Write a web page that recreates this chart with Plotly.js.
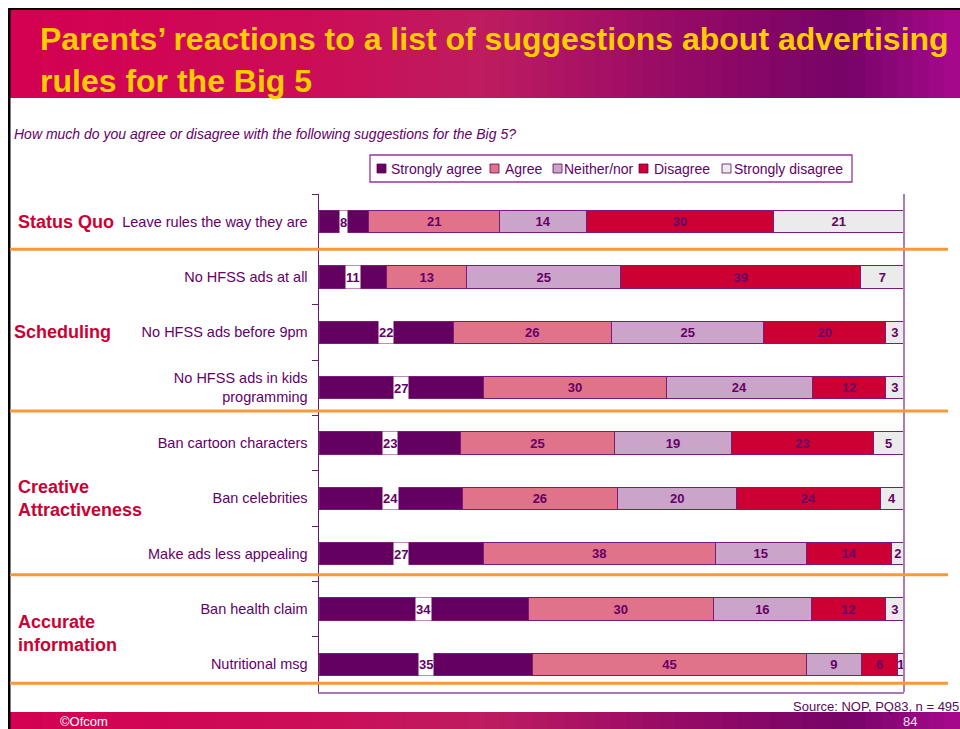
<!DOCTYPE html>
<html>
<head>
<meta charset="utf-8">
<script src="https://cdn.plot.ly/plotly-3.0.1.min.js"></script>
<style>html,body{margin:0;padding:0;background:#fff;}#chart{width:960px;height:729px;}</style>
</head>
<body>
<div id="chart"></div>
<script>
// ---- data ----
const categories = [
  'Leave rules the way they are',
  'No HFSS ads at all',
  'No HFSS ads before 9pm',
  'No HFSS ads in kids<br>programming',
  'Ban cartoon characters',
  'Ban celebrities',
  'Make ads less appealing',
  'Ban health claim',
  'Nutritional msg'
];
const seriesNames = ['Strongly agree', 'Agree', 'Neither/nor', 'Disagree', 'Strongly disagree'];
const stronglyAgree    = [8, 11, 22, 27, 23, 24, 27, 34, 35];
const agree            = [21, 13, 26, 30, 25, 26, 38, 30, 45];
const neitherNor       = [14, 25, 25, 24, 19, 20, 15, 16, 9];
const disagree         = [30, 39, 20, 12, 23, 24, 14, 12, 6];
const stronglyDisagree = [21, 7, 3, 3, 5, 4, 2, 3, 1];
const groups = ['Status Quo', 'Scheduling', 'Creative<br>Attractiveness', 'Accurate<br>information'];
const groupRows = [0, 2, 5, 7.45];

const seriesValues = [stronglyAgree, agree, neitherNor, disagree, stronglyDisagree];
const colors = ['#640060', '#e0728a', '#caa4c9', '#cc0033', '#ebebeb'];

// ---- layout helpers (pixel -> paper) ----
const L = 319, R = 904, T = 194, B = 692;
const px2x = p => (p - L) / (R - L);
const px2y = p => (B - p) / (B - T);
const FONT = 'Liberation Sans, Arial, sans-serif';
const PURPLE = '#660066';

const traces = seriesValues.map((vals, i) => ({
  type: 'bar',
  orientation: 'h',
  name: seriesNames[i],
  y: categories,
  x: vals,
  text: i === 0 ? vals.map(() => '') : vals.map(String),
  textposition: 'inside',
  insidetextanchor: 'middle',
  textfont: {family: FONT, size: 13, color: PURPLE, weight: 700},
  marker: {color: colors[i], line: {color: '#7a1a7a', width: 1}},
  hoverinfo: 'skip',
  showlegend: false
}));

const shapes = [];
const annotations = [];

// header gradient
function lerp(a, b, t) { return a + (b - a) * t; }
const stops = [[0, [212, 0, 82]], [0.3, [204, 12, 86]], [0.5, [190, 28, 96]], [0.7, [150, 10, 102]], [0.88, [118, 4, 104]], [1, [168, 8, 140]]];
function gradColor(t) {
  for (let k = 0; k < stops.length - 1; k++) {
    const [t0, c0] = stops[k], [t1, c1] = stops[k + 1];
    if (t >= t0 && t <= t1) {
      const u = (t - t0) / (t1 - t0);
      return 'rgb(' + c0.map((c, j) => Math.round(lerp(c, c1[j], u))).join(',') + ')';
    }
  }
  return 'rgb(168,8,140)';
}
function band(y0, y1) {
  const N = 60, x0 = 10, x1 = 960;
  for (let k = 0; k < N; k++) {
    const a = x0 + (x1 - x0) * k / N, b = x0 + (x1 - x0) * (k + 1) / N + 0.8;
    shapes.push({type: 'rect', xref: 'paper', yref: 'paper', x0: px2x(a), x1: px2x(b), y0: px2y(y1), y1: px2y(y0),
      fillcolor: gradColor((k + 0.5) / N), line: {width: 0}, layer: 'below'});
  }
}
band(10, 98);
band(712, 729);
// slide borders
shapes.push({type: 'rect', xref: 'paper', yref: 'paper', x0: px2x(8), x1: px2x(960), y0: px2y(10), y1: px2y(8), fillcolor: '#000', line: {width: 0}});
shapes.push({type: 'rect', xref: 'paper', yref: 'paper', x0: px2x(8), x1: px2x(10.5), y0: px2y(729), y1: px2y(8), fillcolor: '#000', line: {width: 0}});

// right frame line
shapes.push({type: 'line', xref: 'paper', yref: 'paper', x0: 1, x1: 1, y0: 0, y1: 1, line: {color: '#a77bb5', width: 2}});

// orange separators
[0.5, 3.42, 6.38, 8.34].forEach(yv => {
  shapes.push({type: 'line', xref: 'paper', yref: 'y', x0: px2x(10), x1: px2x(948), y0: yv, y1: yv, line: {color: '#f7993a', width: 3}});
});

// legend (custom)
shapes.push({type: 'rect', xref: 'paper', yref: 'paper', x0: px2x(370), x1: px2x(852), y0: px2y(182), y1: px2y(155), fillcolor: '#fff', line: {color: '#993399', width: 1.3}});
const legSq = [377, 490, 553, 639, 722];
const legTx = [389, 503, 562, 652, 732];
seriesNames.forEach((n, i) => {
  shapes.push({type: 'rect', xref: 'paper', yref: 'paper', x0: px2x(legSq[i]), x1: px2x(legSq[i] + 9), y0: px2y(173), y1: px2y(164),
    fillcolor: colors[i], line: {color: '#660066', width: 0.8}});
  annotations.push({xref: 'paper', yref: 'paper', x: px2x(legTx[i]), y: px2y(168.5), xanchor: 'left', yanchor: 'middle', showarrow: false,
    text: n, font: {family: FONT, size: 14, color: PURPLE}});
});

// strongly agree labels with white boxes
categories.forEach((c, r) => {
  const total = seriesValues.reduce((s, arr) => s + arr[r], 0);
  const xc = stronglyAgree[r] / total * 100 / 2;
  annotations.push({xref: 'x', yref: 'y', x: xc, y: c, showarrow: false, text: String(stronglyAgree[r]),
    font: {family: FONT, size: 13, color: PURPLE, weight: 700}, bgcolor: '#ffffff', borderpad: 0, height: 22});
});

// group labels
groups.forEach((g, i) => {
  annotations.push({xref: 'paper', yref: 'y', x: px2x(i === 1 ? 12 : 16), y: groupRows[i], xanchor: 'left', yanchor: 'middle', align: 'left',
    showarrow: false, text: g, font: {family: FONT, size: 18, color: '#cc0033', weight: 700}});
});

// subtitle, source, footer
annotations.push({xref: 'paper', yref: 'paper', x: px2x(12), y: px2y(134), xanchor: 'left', yanchor: 'middle', showarrow: false,
  text: '<i>How much do you agree or disagree with the following suggestions for the Big 5?</i>', font: {family: FONT, size: 14, color: PURPLE}});
annotations.push({xref: 'paper', yref: 'paper', x: px2x(961), y: px2y(706), xanchor: 'right', yanchor: 'middle', showarrow: false,
  text: 'Source: NOP, PQ83, n = 495', font: {family: FONT, size: 13, color: '#5a0a5a'}});
annotations.push({xref: 'paper', yref: 'paper', x: px2x(58), y: px2y(721), xanchor: 'left', yanchor: 'middle', showarrow: false,
  text: '©Ofcom', font: {family: FONT, size: 13, color: '#ffffff'}});
annotations.push({xref: 'paper', yref: 'paper', x: px2x(901), y: px2y(721), xanchor: 'left', yanchor: 'middle', showarrow: false,
  text: '84', font: {family: FONT, size: 13, color: '#f0e0f0'}});

const layout = {
  width: 960, height: 729,
  margin: {l: L, r: 960 - R, t: T, b: 729 - B, pad: 0},
  paper_bgcolor: '#ffffff', plot_bgcolor: '#ffffff',
  barmode: 'stack', barnorm: 'percent', bargap: 0.6,
  uniformtext: {mode: 'show', minsize: 13},
  showlegend: false,
  title: {
    text: 'Parents’ reactions to a list of suggestions about advertising<br>rules for the Big 5',
    xref: 'container', yref: 'container', x: 40 / 960, xanchor: 'left', y: 1 - 50 / 729, yanchor: 'top',
    font: {family: 'Liberation Sans Narrow, Arial Narrow, Liberation Sans, sans-serif', size: 32, color: '#ffcc00', weight: 700}
  },
  xaxis: {range: [0, 100], showgrid: false, zeroline: false, showticklabels: false, ticks: '',
    showline: true, linecolor: '#a77bb5', linewidth: 2, fixedrange: true},
  yaxis: {type: 'category', range: [8.5, -0.5], showgrid: false, zeroline: false,
    showline: true, linecolor: '#6a1b6e', linewidth: 1.5,
    ticks: 'outside', tickson: 'boundaries', ticklen: 6, tickcolor: '#6a1b6e', tickwidth: 1,
    ticklabelstandoff: 7,
    tickfont: {family: FONT, size: 14.5, color: PURPLE}},
  shapes: shapes,
  annotations: annotations,
  font: {family: FONT}
};

Plotly.newPlot('chart', traces, layout, {displayModeBar: false, staticPlot: true});
</script>
</body>
</html>
